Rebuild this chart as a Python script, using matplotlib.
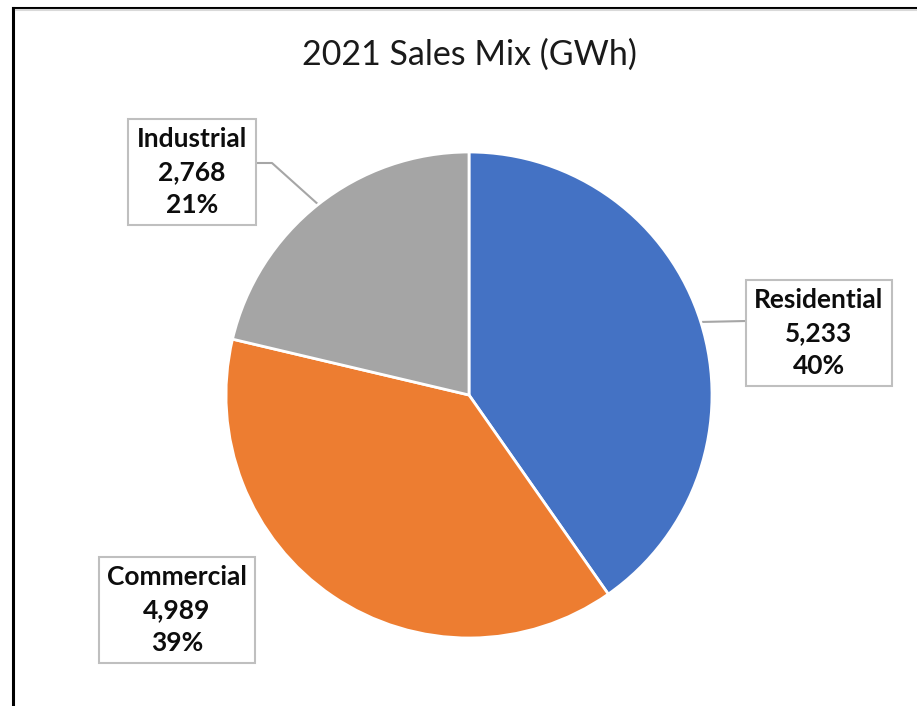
import matplotlib
matplotlib.use("Agg")
import matplotlib.pyplot as plt
from matplotlib.lines import Line2D
import numpy as np

plt.rcParams['font.family'] = ['Lato', 'DejaVu Sans']

# data
categories = ["Residential", "Commercial", "Industrial"]
sales_gwh = [5233, 4989, 2768]
pct_labels = ["40%", "39%", "21%"]
colors = ["#4472C4", "#ED7D31", "#A5A5A5"]
title = "2021 Sales Mix (GWh)"

W, H = 917, 706
fig = plt.figure(figsize=(W / 100, H / 100), dpi=100)
ax = fig.add_axes([0, 0, 1, 1])

cx, cy, r = 469, H - 395, 243
wedges, _ = ax.pie(sales_gwh, colors=colors, startangle=90, counterclock=False,
                   center=(cx, cy), radius=r,
                   wedgeprops=dict(edgecolor="white", linewidth=2))
ax.set_xlim(0, W)
ax.set_ylim(0, H)
ax.set_aspect("equal")
ax.axis("off")

ax.text(cx, H - 55, title, ha="center", va="center", fontsize=24.5, color="#1A1A1A")

# label box centres (pixel layout)
box_pos = {"Residential": (819, H - 333), "Commercial": (177, H - 610),
           "Industrial": (192, H - 172)}
for w, name, v, p in zip(wedges, categories, sales_gwh, pct_labels):
    txt = f"{name}\n{v:,}\n{p}"
    bx, by = box_pos[name]
    ax.text(bx, by, txt, ha="center", va="center", fontsize=19, fontweight="bold",
            color="#0D0D0D", linespacing=1.45,
            bbox=dict(boxstyle="square,pad=0.32", facecolor="white",
                      edgecolor="#BFBFBF", linewidth=1.5))
    mid = np.deg2rad((w.theta1 + w.theta2) / 2)
    ex, ey = cx + r * np.cos(mid), cy + r * np.sin(mid)
    if name == "Industrial":
        ax.plot([257, 272, ex], [H - 163, H - 163, ey], color="#A6A6A6", lw=1.5, zorder=0.5)
    elif name == "Residential":
        ax.plot([746, ex], [H - 321, ey], color="#A6A6A6", lw=1.5, zorder=0.5)

# outer frame (left and top edges only visible)
fig.add_artist(Line2D([13 / W, 13 / W], [0, 1 - 8 / H], color="black", lw=2.2))
fig.add_artist(Line2D([13 / W, 1], [1 - 8 / H, 1 - 8 / H], color="black", lw=2.2))
fig.add_artist(Line2D([15.5 / W, 1], [1 - 10 / H, 1 - 10 / H], color="#D9D9D9", lw=1.5))

fig.savefig("out.png", dpi=100, facecolor="white")
